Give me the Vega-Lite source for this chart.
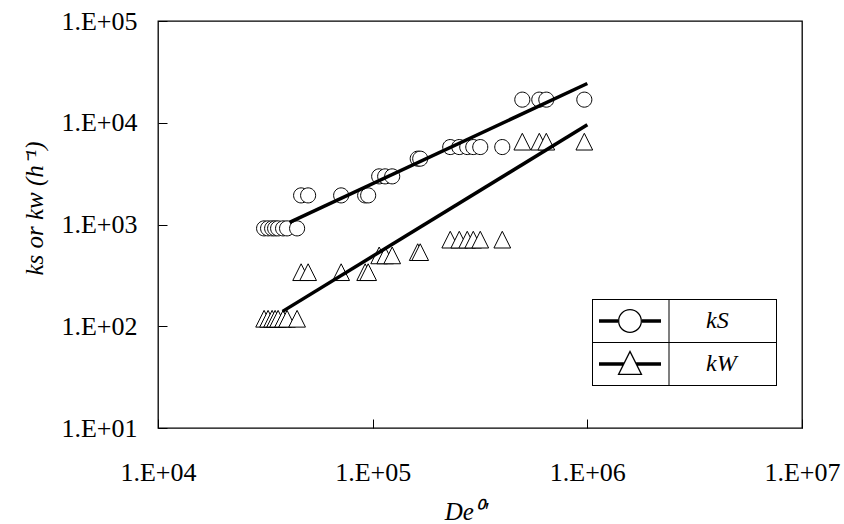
{
  "$schema": "https://vega.github.io/schema/vega-lite/v6.json",
  "width": 644,
  "height": 407,
  "autosize": {"type": "none"},
  "padding": {"left": 158, "top": 21, "right": 42, "bottom": 96},
  "background": "white",
  "config": {
    "font": "Liberation Serif",
    "view": {"stroke": "black", "strokeWidth": 1.3},
    "axis": {
      "grid": false,
      "domain": false,
      "tickColor": "black",
      "tickWidth": 1,
      "tickSize": -9,
      "labelFont": "Liberation Serif",
      "labelFontSize": 26,
      "labelColor": "black",
      "labelFlush": false,
      "labelOverlap": false,
      "titleFont": "Liberation Serif",
      "titleFontSize": 25,
      "titleFontWeight": "normal",
      "titleFontStyle": "italic",
      "titleColor": "black"
    }
  },
  "datasets": {
    "points": [
      {"De": 31210, "k": 916, "series": "kS"},
      {"De": 32570, "k": 916, "series": "kS"},
      {"De": 34010, "k": 916, "series": "kS"},
      {"De": 35120, "k": 916, "series": "kS"},
      {"De": 36270, "k": 916, "series": "kS"},
      {"De": 38250, "k": 916, "series": "kS"},
      {"De": 39930, "k": 916, "series": "kS"},
      {"De": 44460, "k": 916, "series": "kS"},
      {"De": 46420, "k": 1932, "series": "kS"},
      {"De": 50040, "k": 1932, "series": "kS"},
      {"De": 71320, "k": 1932, "series": "kS"},
      {"De": 92270, "k": 1932, "series": "kS"},
      {"De": 95280, "k": 1932, "series": "kS"},
      {"De": 107230, "k": 2972, "series": "kS"},
      {"De": 114370, "k": 2972, "series": "kS"},
      {"De": 123300, "k": 2972, "series": "kS"},
      {"De": 162130, "k": 4436, "series": "kS"},
      {"De": 166520, "k": 4436, "series": "kS"},
      {"De": 229800, "k": 5770, "series": "kS"},
      {"De": 253200, "k": 5770, "series": "kS"},
      {"De": 275800, "k": 5770, "series": "kS"},
      {"De": 294200, "k": 5770, "series": "kS"},
      {"De": 317100, "k": 5770, "series": "kS"},
      {"De": 401600, "k": 5770, "series": "kS"},
      {"De": 497800, "k": 16870, "series": "kS"},
      {"De": 597300, "k": 16870, "series": "kS"},
      {"De": 644000, "k": 16870, "series": "kS"},
      {"De": 968200, "k": 16870, "series": "kS"},
      {"De": 31210, "k": 118.5, "series": "kW"},
      {"De": 32570, "k": 118.5, "series": "kW"},
      {"De": 34010, "k": 118.5, "series": "kW"},
      {"De": 35120, "k": 118.5, "series": "kW"},
      {"De": 36270, "k": 118.5, "series": "kW"},
      {"De": 38250, "k": 118.5, "series": "kW"},
      {"De": 39930, "k": 118.5, "series": "kW"},
      {"De": 44460, "k": 118.5, "series": "kW"},
      {"De": 46420, "k": 340, "series": "kW"},
      {"De": 50040, "k": 340, "series": "kW"},
      {"De": 71320, "k": 340, "series": "kW"},
      {"De": 92270, "k": 340, "series": "kW"},
      {"De": 95280, "k": 340, "series": "kW"},
      {"De": 107230, "k": 497, "series": "kW"},
      {"De": 114370, "k": 497, "series": "kW"},
      {"De": 123300, "k": 497, "series": "kW"},
      {"De": 162130, "k": 535, "series": "kW"},
      {"De": 166520, "k": 535, "series": "kW"},
      {"De": 229800, "k": 710, "series": "kW"},
      {"De": 253200, "k": 710, "series": "kW"},
      {"De": 275800, "k": 710, "series": "kW"},
      {"De": 294200, "k": 710, "series": "kW"},
      {"De": 317100, "k": 710, "series": "kW"},
      {"De": 401600, "k": 710, "series": "kW"},
      {"De": 497800, "k": 6520, "series": "kW"},
      {"De": 597300, "k": 6520, "series": "kW"},
      {"De": 644000, "k": 6520, "series": "kW"},
      {"De": 968200, "k": 6520, "series": "kW"}
    ],
    "fits": [
      {"De": 41000, "k": 1050, "series": "kS"},
      {"De": 1000000, "k": 24300, "series": "kS"},
      {"De": 38060, "k": 140, "series": "kW"},
      {"De": 1000000, "k": 9550, "series": "kW"}
    ]
  },
  "encoding": {
    "x": {
      "field": "De",
      "type": "quantitative",
      "scale": {"type": "log", "domain": [10000, 10000000], "nice": false},
      "axis": {
        "values": [10000, 100000, 1000000, 10000000],
        "labelExpr": "'1.E+0' + round(log(datum.value) / LN10)",
        "labelPadding": 40,
        "title": "De⁰'",
        "titleX": 308,
        "titleY": 91,
        "titleAlign": "center",
        "titleBaseline": "alphabetic"
      }
    },
    "y": {
      "field": "k",
      "type": "quantitative",
      "scale": {"type": "log", "domain": [10, 100000], "nice": false},
      "axis": {
        "values": [10, 100, 1000, 10000, 100000],
        "labelExpr": "'1.E+0' + round(log(datum.value) / LN10)",
        "labelPadding": 30,
        "title": "ks or kw (h⁻¹)",
        "titleAngle": 270,
        "titleX": -124,
        "titleY": 187,
        "titleAlign": "center",
        "titleBaseline": "middle"
      }
    }
  },
  "layer": [
    {
      "data": {"name": "points"},
      "transform": [{"filter": "datum.series === 'kS'"}],
      "mark": {"type": "point", "shape": "M-0.9,0A0.9,0.9,0,1,1,0.9,0A0.9,0.9,0,1,1,-0.9,0Z", "filled": true, "fill": "white", "stroke": "black", "strokeWidth": 1, "opacity": 1, "size": 280}
    },
    {
      "data": {"name": "points"},
      "transform": [{"filter": "datum.series === 'kW'"}],
      "mark": {"type": "point", "shape": "M0,-1L1,1L-1,1Z", "filled": true, "fill": "white", "stroke": "black", "strokeWidth": 1, "opacity": 1, "size": 280}
    },
    {
      "data": {"name": "points"},
      "mark": {"type": "point", "filled": true, "opacity": 0, "size": 400},
      "encoding": {
        "shape": {
          "field": "series",
          "type": "nominal",
          "scale": {
            "domain": ["kS", "kW"],
            "range": [
              "M-3.1,-0.17H-1.2V0.17H-3.1Z M1.2,-0.17H3.1V0.17H1.2Z M-1.2,0A1.2,1.2,0,1,1,1.2,0A1.2,1.2,0,1,1,-1.2,0Z M-1.07,0A1.07,1.07,0,1,0,1.07,0A1.07,1.07,0,1,0,-1.07,0Z M-3.8,-2.2H14.7V-2.1H-3.8Z M-3.8,-2.2H-3.7V2.2H-3.8Z M14.6,-2.2H14.7V2.2H14.6Z M3.85,-2.2H3.95V2.2H3.85Z M-3.8,2.1H14.7V2.2H-3.8Z",
              "M-3.1,-0.17L-0.615,-0.17L-0.785,0.17L-3.1,0.17Z M0.615,-0.17L3.1,-0.17L3.1,0.17L0.785,0.17Z M0,-1.4L1.25,1.1L-1.25,1.1Z M0,-1.109L-1.04,0.97L1.04,0.97Z M-3.8,-2.2H-3.7V2.2H-3.8Z M14.6,-2.2H14.7V2.2H14.6Z M3.85,-2.2H3.95V2.2H3.85Z M-3.8,2.1H14.7V2.2H-3.8Z"
            ]
          },
          "legend": {
            "title": null,
            "orient": "none",
            "legendX": 460,
            "legendY": 288,
            "padding": 0,
            "symbolSize": 400,
            "symbolOffset": 0,
            "labelOffset": 64,
            "rowPadding": -1,
            "labelFont": "Liberation Serif",
            "labelFontStyle": "italic",
            "labelFontSize": 24,
            "labelColor": "black",
            "strokeColor": "transparent",
            "encoding": {
              "symbols": {
                "fill": {"value": "black"},
                "stroke": {"value": "transparent"},
                "strokeWidth": {"value": 0},
                "opacity": {"value": 1},
                "size": {"value": 400}
              }
            }
          }
        }
      }
    },
    {
      "data": {"name": "fits"},
      "mark": {"type": "line", "color": "black", "strokeWidth": 3.5},
      "encoding": {
        "detail": {"field": "series", "type": "nominal"}
      }
    }
  ]
}
